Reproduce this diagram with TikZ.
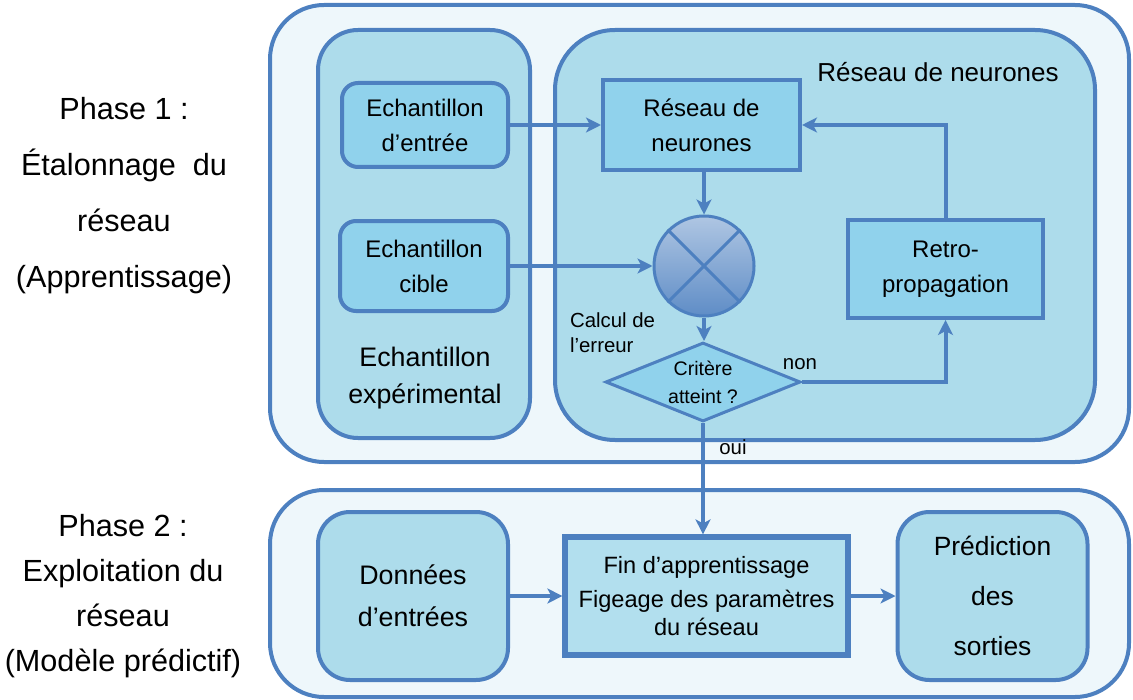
\documentclass[tikz,border=0pt]{standalone}
\usepackage{fontspec}
\setmainfont{Liberation Sans}
\usepackage{tikz}
\usetikzlibrary{arrows.meta}
\usetikzlibrary{shapes.geometric}

\definecolor{bordblue}{HTML}{4D80C0}
\definecolor{palefill}{HTML}{EEF7FB}
\definecolor{groupfill}{HTML}{ADDCEB}
\definecolor{samplefill}{HTML}{90D2EC}
\definecolor{finfill}{HTML}{B2DFEE}

\begin{document}
\begin{tikzpicture}[x=0.5pt, y=-0.5pt, >={Stealth[length=7.5pt,width=7.5pt,inset=2pt]}]

  % ---------- Styling ----------
  \tikzset{
    phasebox/.style={draw=bordblue, fill=palefill, line width=2pt, rounded corners=27pt, inner sep=0pt},
    groupbox/.style={draw=bordblue, fill=groupfill, line width=2pt, inner sep=0pt},
    samplebox/.style={draw=bordblue, fill=samplefill, line width=2pt, rounded corners=8pt, align=center,
      font=\fontsize{12}{17.5}\selectfont},
    netbox/.style={draw=bordblue, fill=samplefill, line width=2pt, align=center,
      font=\fontsize{12}{17.5}\selectfont},
    bigbox/.style={draw=bordblue, fill=groupfill, line width=2pt, rounded corners=16pt, align=center,
      minimum width=95pt, minimum height=84pt, font=\fontsize{13.4}{21}\selectfont},
    sumnode/.style={circle, draw=bordblue, line width=1.5pt, minimum size=50pt,
      top color=bordblue!45!white, bottom color=bordblue!90!white},
    testnode/.style={diamond, draw=bordblue, fill=samplefill, line width=1.5pt, aspect=2.5, inner sep=0pt,
      minimum width=97.5pt, minimum height=39.5pt, align=center, font=\fontsize{9.8}{14}\selectfont},
    flow/.style={draw=bordblue, line width=2pt, ->},
    sidetext/.style={align=center, font=\fontsize{15.3}{28}\selectfont},
    smalltext/.style={font=\fontsize{10.2}{12.5}\selectfont}
  }

  \useasboundingbox (0,0) rectangle (1133,700);

  % ---------- Phase containers ----------
  \node[phasebox, minimum width=429.5pt, minimum height=228.5pt] (phaseA) at (699.5,233.5) {};
  \node[phasebox, minimum width=429.5pt, minimum height=103.5pt] (phaseB) at (699.5,593.5) {};

  % ---------- Phase 1 groups ----------
  \node[groupbox, rounded corners=20pt, minimum width=106pt, minimum height=204pt] (expgroup) at (424,234) {};
  \node[groupbox, rounded corners=30pt, minimum width=270pt, minimum height=205pt] (netgroup) at (825,235) {};
  \node[font=\fontsize{13}{16}\selectfont] (netlabel) at (938,72) {Réseau de neurones};
  \node[align=center, font=\fontsize{13.4}{18.5}\selectfont] (explabel) at (425,378) {Echantillon\\expérimental};

  % ---------- Phase 1 nodes ----------
  \node[samplebox, minimum width=83pt, minimum height=42pt] (entree) at (425,125) {Echantillon\\d’entrée};
  \node[samplebox, minimum width=84pt, minimum height=45pt] (cible) at (424,266) {Echantillon\\cible};
  \node[netbox, minimum width=98.5pt, minimum height=45pt] (net) at (701.5,125) {Réseau de\\neurones};
  \node[sumnode] (sum) at (704,266) {};
  \draw[bordblue, line width=1.5pt] (sum.north west) -- (sum.south east);
  \draw[bordblue, line width=1.5pt] (sum.north east) -- (sum.south west);
  \node[testnode] (crit) at (703,382) {Critère\\atteint ?};
  \node[netbox, minimum width=97.5pt, minimum height=49pt] (retro) at (945.5,269) {Retro-\\propagation};
  \node[smalltext, align=left, anchor=north west] (calc) at (563,306) {Calcul de\\l’erreur};
  \node[smalltext] (nonlabel) at (800,364) {non};
  \node[smalltext] (ouilabel) at (733,447) {oui};

  % ---------- Phase 1 connectors ----------
  \draw[flow] (entree.east |- net.west) -- (net.west);
  \draw[flow] (net.south -| sum.north) -- (sum.north);
  \draw[flow] (cible.east) -- (sum.west);
  \draw[flow] (sum.south) -- (crit.north -| sum.south);
  \draw[flow] (crit.east) -| (retro.south);
  \draw[flow] (retro.north) |- (net.east);

  % ---------- Phase 2 nodes ----------
  \node[bigbox] (donnees) at (413,596) {Données\\d’entrées};
  \node[draw=bordblue, fill=finfill, line width=2.6pt, align=center, minimum width=141.5pt, minimum height=59pt,
    font=\fontsize{11.8}{14}\selectfont] (fin) at (706.5,596)
    {Fin d’apprentissage\\[3pt]Figeage des paramètres\\du réseau};
  \node[bigbox, font=\fontsize{13.2}{25}\selectfont] (predict) at (992.5,596) {Prédiction\\des\\sorties};

  % ---------- Phase 2 connectors ----------
  \draw[flow] (crit.south) -- (fin.north -| crit.south);
  \draw[flow] (donnees.east |- fin.west) -- (fin.west);
  \draw[flow] (fin.east) -- (predict.west |- fin.east);

  % ---------- Side labels ----------
  \node[sidetext] (phaseAtext) at (124,196) {Phase 1 :\\Étalonnage~ du\\réseau\\(Apprentissage)};
  \node[sidetext, font=\fontsize{15.3}{22.5}\selectfont] (phaseBtext) at (123,596) {Phase 2 :\\Exploitation du\\réseau\\(Modèle prédictif)};

\end{tikzpicture}
\end{document}
